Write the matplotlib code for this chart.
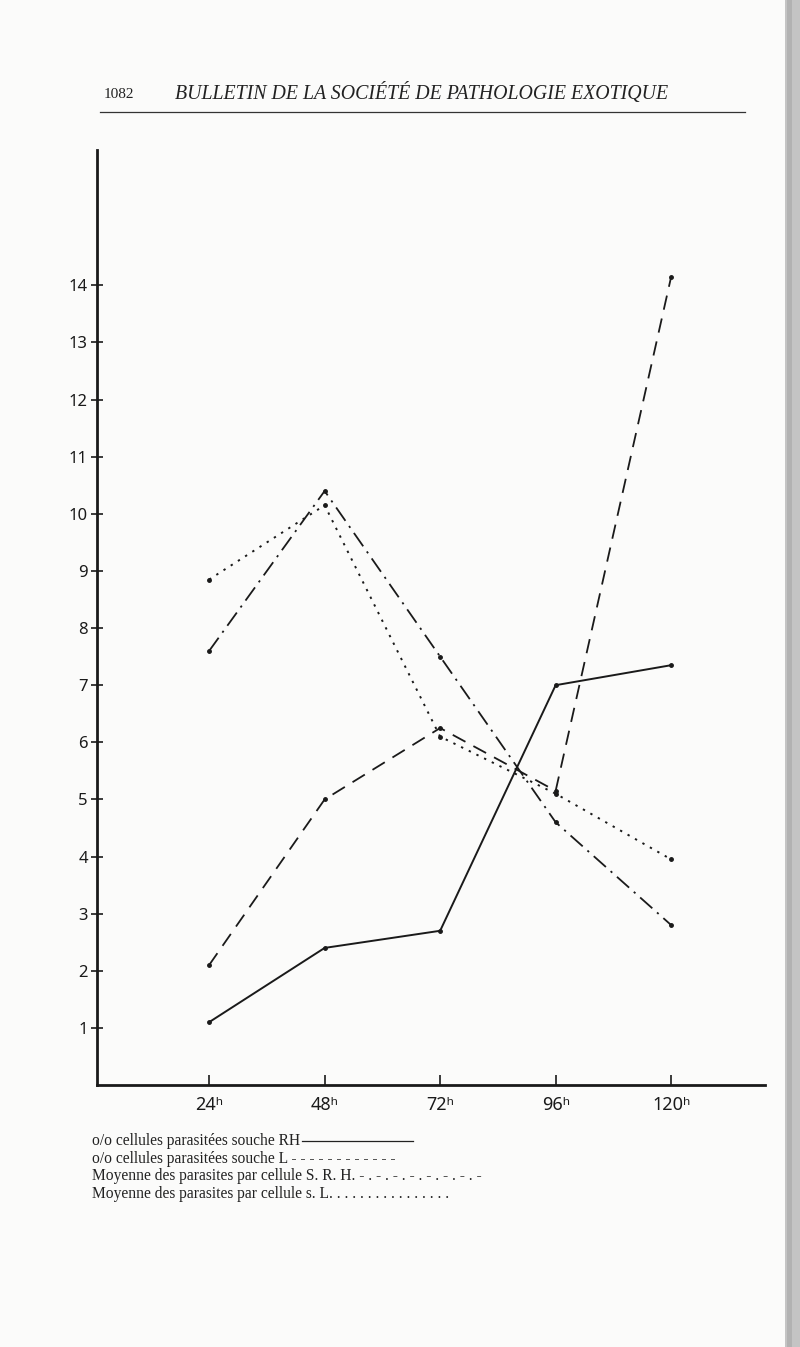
import matplotlib
matplotlib.use("Agg")
import matplotlib.pyplot as plt
from matplotlib.lines import Line2D
from matplotlib.patches import Rectangle

# sampling times (hours) and the four measured series
hours = [24, 48, 72, 96, 120]
hour_labels = ["24ʰ", "48ʰ", "72ʰ", "96ʰ", "120ʰ"]
y_ticks = list(range(1, 15))

rh_pct = [1.1, 2.4, 2.7, 7.0, 7.35]        # % cellules parasitées souche RH
l_pct = [2.1, 5.0, 6.25, 5.15, 14.15]      # % cellules parasitées souche L
srh_mean = [7.6, 10.4, 7.5, 4.6, 2.8]      # moyenne parasites / cellule S.R.H.
sl_mean = [8.85, 10.15, 6.1, 5.1, 3.95]    # moyenne parasites / cellule s. L

legend_lines = [
    "o/o cellules parasitées souche RH",
    "o/o cellules parasitées souche L - - - - - - - - - - - -",
    "Moyenne des parasites par cellule S. R. H. - . - . - . - . - . - . - . -",
    "Moyenne des parasites par cellule s. L. . . . . . . . . . . . . . . .",
]

W, H = 800, 1347
fig = plt.figure(figsize=(W / 100, H / 100), dpi=100)
fig.patch.set_facecolor("#fbfbfa")

# page header
serif = ["Liberation Serif", "DejaVu Serif"]
fig.text(104 / W, 1 - 94 / H, "1082", family=serif, fontsize=11,
         va="center", ha="left", color="#222")
fig.text(175 / W, 1 - 94 / H, "BULLETIN DE LA SOCIÉTÉ DE PATHOLOGIE EXOTIQUE",
         family=serif, style="italic", fontsize=14.3, va="center", ha="left",
         color="#222")
fig.add_artist(Line2D([100 / W, 745 / W], [1 - 112 / H, 1 - 112 / H],
                      color="#333", lw=0.9))

# scan edge on the right
fig.add_artist(Rectangle((785 / W, 0), 15 / W, 1, color="#c4c4c4", lw=0))
fig.add_artist(Rectangle((787 / W, 0), 5 / W, 1, color="#b2b2b2", lw=0))

ax = fig.add_axes([97 / W, 1 - 1085 / H, (765 - 97) / W, (1085 - 150) / H])
ax.set_facecolor("none")

ink = "#1a1a1a"
ax.plot(hours, rh_pct, color=ink, lw=1.4, marker="o", ms=2.5)
ax.plot(hours, l_pct, color=ink, lw=1.3, ls=(0, (8, 5)), marker="o", ms=2.5)
ax.plot(hours, srh_mean, color=ink, lw=1.3, ls=(0, (9, 3.5, 1.2, 3.5)),
        marker="o", ms=2.5)
ax.plot(hours, sl_mean, color=ink, lw=1.4, ls=(0, (1.2, 3.2)),
        marker="o", ms=2.5)

ax.set_xlim(0.7, 139.5)
ax.set_ylim(0, 16.37)

for side in ("top", "right"):
    ax.spines[side].set_visible(False)
for side in ("left", "bottom"):
    ax.spines[side].set_linewidth(2.0)
    ax.spines[side].set_color(ink)

ax.set_yticks(y_ticks)
ax.set_yticklabels([str(v) for v in y_ticks], fontsize=12, fontweight="bold",
                   family=["Noto Sans", "DejaVu Sans"])
ax.tick_params(axis="y", direction="inout", length=9, width=1.2, pad=2,
               colors=ink)
ax.set_xticks(hours)
ax.set_xticklabels(hour_labels, fontsize=13, fontweight="bold",
                   family=["Noto Sans", "DejaVu Sans"])
ax.tick_params(axis="x", direction="in", length=7, width=1.2, pad=8,
               colors=ink)

# typed legend under the chart
for i, line in enumerate(legend_lines):
    fig.text(92 / W, 1 - (1141 + i * 17.7) / H, line, family=serif,
             fontsize=11.2, va="center", ha="left", color="#222")
fig.add_artist(Line2D([302 / W, 413 / W], [1 - 1141 / H, 1 - 1141 / H],
                      color="#222", lw=0.9))

fig.savefig("out.png", dpi=100, facecolor=fig.get_facecolor())
